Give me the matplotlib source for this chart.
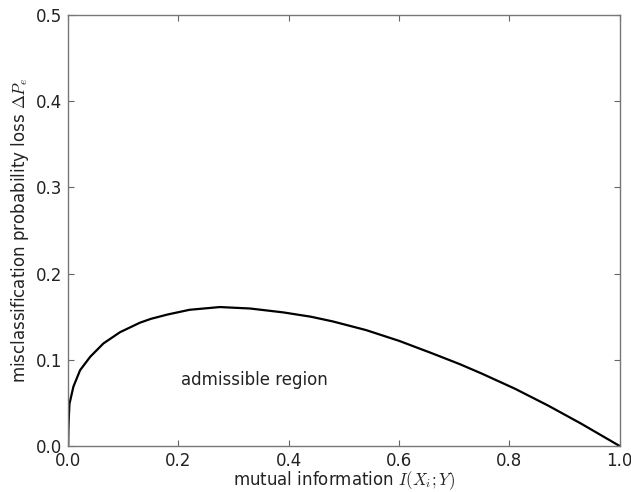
import matplotlib

matplotlib.use("Agg")
import matplotlib.pyplot as plt

# curve (mutual information vs. loss bound)
mi = [0.0, 0.0005, 0.0012, 0.0024, 0.0096, 0.0217, 0.040, 0.064, 0.094,
      0.130, 0.150, 0.180, 0.220, 0.275, 0.330, 0.390, 0.440, 0.480,
      0.540, 0.600, 0.660, 0.710, 0.750, 0.810, 0.870, 0.930, 1.0]
loss = [0.0, 0.020, 0.033, 0.049, 0.069, 0.088, 0.1035, 0.119, 0.132,
        0.143, 0.1475, 0.1525, 0.158, 0.1612, 0.1595, 0.1550, 0.1500, 0.1445,
        0.1345, 0.1220, 0.1075, 0.0950, 0.0840, 0.0665, 0.0470, 0.0260, 0.0]

xticks = [0.0, 0.2, 0.4, 0.6, 0.8, 1.0]
yticks = [0.0, 0.1, 0.2, 0.3, 0.4, 0.5]

plt.rcParams["mathtext.fontset"] = "cm"
plt.rcParams["font.size"] = 12

fig = plt.figure(figsize=(6.31, 4.92), dpi=100)
ax = fig.add_axes([0.108, 0.0935, 0.874, 0.876])

ax.plot(mi, loss, color="black", lw=1.6)
ax.text(0.205, 0.071, "admissible region", fontsize=12, color="#222222")

ax.set_xlim(0, 1)
ax.set_ylim(0, 0.5)
ax.set_xticks(xticks)
ax.set_yticks(yticks)
ax.tick_params(direction="in", top=True, right=True, length=4, width=0.8,
               color="#666666", labelsize=12, pad=4, labelcolor="#222222")
for s in ax.spines.values():
    s.set_color("#777777")
    s.set_linewidth(1.0)

ax.set_xlabel("mutual information $I(X_i;Y)$", fontsize=12, color="#222222", labelpad=0)
ax.set_ylabel("misclassification probability loss $\\Delta P_e$", fontsize=12,
              color="#222222", labelpad=4)

fig.savefig("out.png", dpi=100)
